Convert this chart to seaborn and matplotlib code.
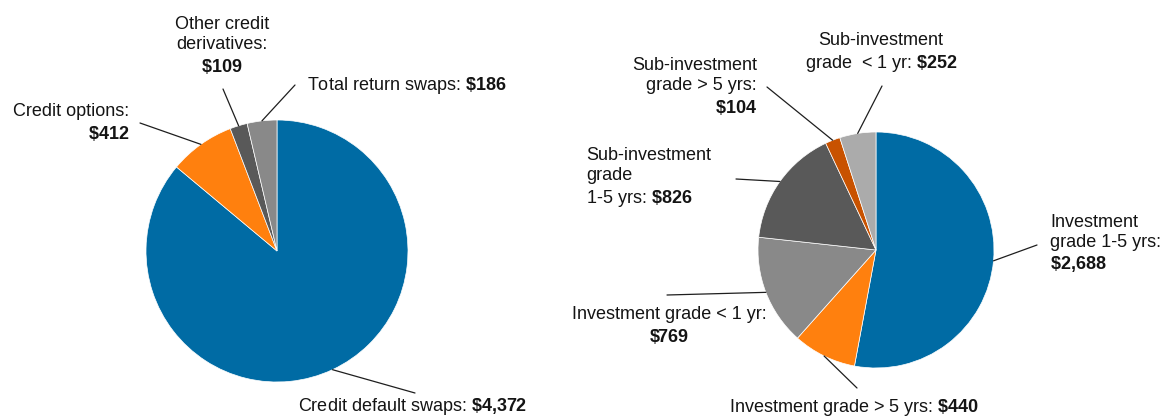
import numpy as np
import matplotlib
matplotlib.use("Agg")
import matplotlib.pyplot as plt
import seaborn as sns

# notional amounts ($ billions)
deriv_types = ["Credit default swaps", "Credit options", "Other credit derivatives", "Total return swaps"]
deriv_values = [4372, 412, 109, 186]

maturity_buckets = [
    "Investment grade 1-5 yrs",
    "Investment grade > 5 yrs",
    "Investment grade < 1 yr",
    "Sub-investment grade 1-5 yrs",
    "Sub-investment grade > 5 yrs",
    "Sub-investment grade < 1 yr",
]
maturity_values = [2688, 440, 769, 826, 104, 252]

# label text as printed, {v} is the bold amount
deriv_labels = [
    "Credit default swaps: {v}",
    "Credit options:\n{v}",
    "Other credit\nderivatives:\n{v}",
    "Total return swaps: {v}",
]
maturity_labels = [
    "Investment\ngrade 1-5 yrs:\n{v}",
    "Investment grade > 5 yrs: {v}",
    "Investment grade < 1 yr:\n{v}",
    "Sub-investment\ngrade\n1-5 yrs: {v}",
    "Sub-investment\ngrade > 5 yrs:\n{v}",
    "Sub-investment\ngrade  < 1 yr: {v}",
]

W, H = 1164, 417

sns.set_theme(style="white")
plt.rcParams["font.family"] = ["Liberation Sans", "DejaVu Sans"]
plt.rcParams["mathtext.fontset"] = "custom"
plt.rcParams["mathtext.rm"] = "Liberation Sans"
plt.rcParams["mathtext.bf"] = "Liberation Sans:bold"

pal = sns.color_palette(["#006BA4", "#FF800E", "#595959", "#898989", "#C85200", "#ABABAB"])
left_colors = [pal[0], pal[1], pal[2], pal[3]]
right_colors = [pal[0], pal[1], pal[3], pal[2], pal[4], pal[5]]

TEXT = "#141414"
LINE = "#1e1e1e"


def money(v):
    return r"$\mathbf{\$" + f"{v:,}".replace(",", "{,}") + "}$"


def draw_pie(fig, center, radius, values, colors, labels, layout):
    cx, cy = center
    ax = fig.add_axes([(cx - radius) / W, (H - cy - radius) / H, 2 * radius / W, 2 * radius / H])
    wedges, _ = ax.pie(values, colors=colors, startangle=90, counterclock=False,
                       wedgeprops=dict(edgecolor="white", linewidth=0.5))
    ax.set_xlim(-1, 1)
    ax.set_ylim(-1, 1)
    ax.axis("off")

    def to_data(px, py):
        return (px - cx) / radius, (cy - py) / radius

    for w, lab, v, (tx, ty, ha, va, lx, ly) in zip(wedges, labels, values, layout):
        mid = np.deg2rad((w.theta1 + w.theta2) / 2)
        ex, ey = to_data(lx, ly)
        ax.plot([np.cos(mid), ex], [np.sin(mid), ey], color=LINE, lw=0.9, clip_on=False)
        x, y = to_data(tx, ty)
        ax.text(x, y, lab.format(v=money(v)), ha=ha, va=va, fontsize=13,
                color=TEXT, linespacing=1.22, clip_on=False)
    return ax


fig = plt.figure(figsize=(W / 100, H / 100), dpi=100)

# text anchor (px), alignment, leader end (px)
left_layout = [
    (298, 411, "left", "baseline", 415, 393),
    (129, 123, "right", "center", 140, 123),
    (222, 46, "center", "center", 223, 89),
    (307, 85, "left", "center", 295, 85),
]
right_layout = [
    (1050, 244, "left", "center", 1037, 245),
    (854, 407, "center", "center", 857, 388),
    (669, 326, "center", "center", 667, 295),
    (586, 178, "left", "center", 736, 179),
    (757, 87, "right", "center", 767, 87),
    (881, 53, "center", "center", 882, 86),
]

draw_pie(fig, (277, 251), 131, deriv_values, left_colors, deriv_labels, left_layout)
draw_pie(fig, (876, 250), 118, maturity_values, right_colors, maturity_labels, right_layout)

fig.savefig("out.png", dpi=100, facecolor="white")
